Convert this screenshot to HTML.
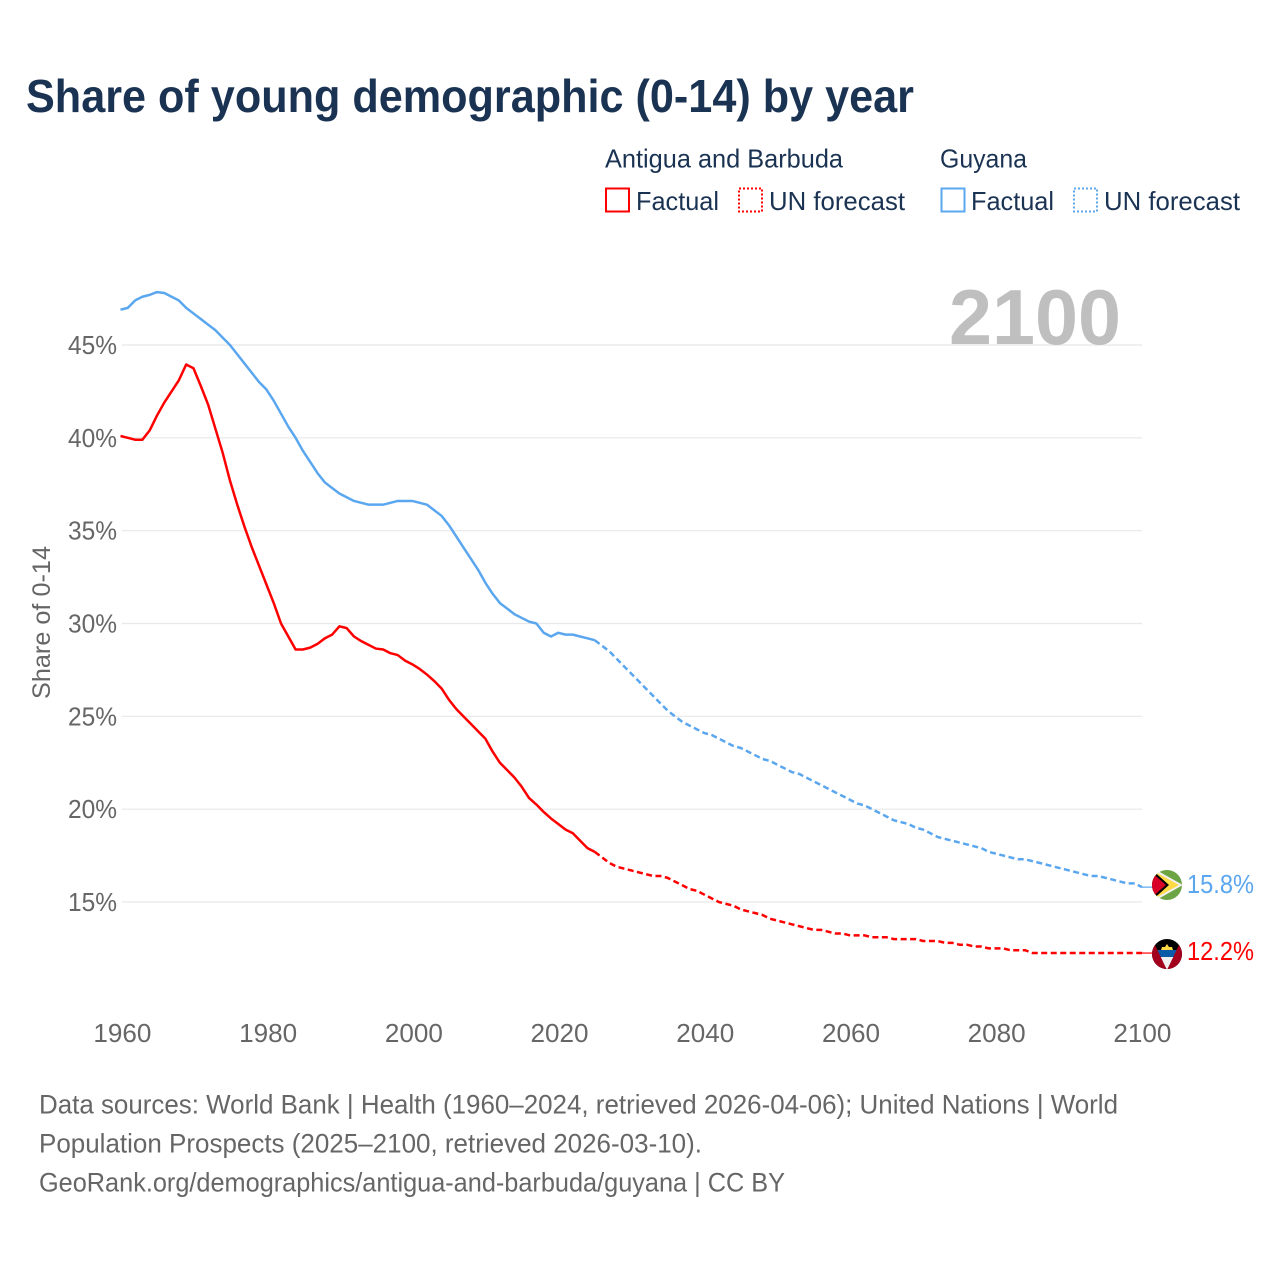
<!DOCTYPE html>
<html lang="en">
<head>
<meta charset="utf-8">
<title>Share of young demographic (0-14) by year</title>
<style>
html,body{margin:0;padding:0;background:#fff}
svg{display:block}
text{font-family:"Liberation Sans",sans-serif}
</style>
</head>
<body>
<svg id="chart" xmlns="http://www.w3.org/2000/svg" width="1280" height="1280" viewBox="0 0 1280 1280">
  <defs>
    <clipPath id="clip-guyana"><circle cx="1167" cy="885" r="15"/></clipPath>
    <clipPath id="clip-antigua"><circle cx="1167" cy="954" r="15"/></clipPath>
  </defs>
  <rect width="1280" height="1280" fill="#fff"/>
  <text x="26" y="112" font-size="46" font-weight="700" fill="#1b3353" textLength="888" lengthAdjust="spacingAndGlyphs">Share of young demographic (0-14) by year</text>

  <g font-size="26" fill="#1b3353">
    <text x="605" y="167.5" textLength="238" lengthAdjust="spacingAndGlyphs">Antigua and Barbuda</text>
    <rect x="606" y="188.5" width="23" height="23" fill="none" stroke="#ff0000" stroke-width="2"/>
    <text x="636" y="210" textLength="83" lengthAdjust="spacingAndGlyphs">Factual</text>
    <rect x="739" y="188.5" width="23" height="23" fill="none" stroke="#ff0000" stroke-width="2" stroke-dasharray="2 2"/>
    <text x="769" y="210" textLength="136" lengthAdjust="spacingAndGlyphs">UN forecast</text>
    <text x="940" y="167.5" textLength="87" lengthAdjust="spacingAndGlyphs">Guyana</text>
    <rect x="941.5" y="188.5" width="23" height="23" fill="none" stroke="#5ba7ef" stroke-width="2"/>
    <text x="971" y="210" textLength="83" lengthAdjust="spacingAndGlyphs">Factual</text>
    <rect x="1074" y="188.5" width="23" height="23" fill="none" stroke="#5ba7ef" stroke-width="2" stroke-dasharray="2 2"/>
    <text x="1104" y="210" textLength="136" lengthAdjust="spacingAndGlyphs">UN forecast</text>
  </g>

  <g id="grid"></g>
  <text x="949" y="344" font-size="78" font-weight="700" fill="#bfbfbf" textLength="172" lengthAdjust="spacingAndGlyphs">2100</text>
  <g id="yticks"></g>
  <g id="xticks"></g>
  <text transform="translate(50 622.5) rotate(-90)" text-anchor="middle" font-size="25" fill="#666" textLength="153" lengthAdjust="spacingAndGlyphs">Share of 0-14</text>
  <g id="series"></g>

  <g clip-path="url(#clip-guyana)">
    <rect x="1150" y="868" width="34" height="34" fill="#6da544"/>
    <polygon points="1150,866.5 1183,885 1150,903.5" fill="#f0f0f0"/>
    <polygon points="1150,869 1179,885 1150,901" fill="#ffda44"/>
    <polygon points="1150,868 1169,885 1150,902" fill="#000"/>
    <polygon points="1150,871 1166,885 1150,899" fill="#d80027"/>
  </g>
  <g clip-path="url(#clip-antigua)">
    <rect x="1150" y="937" width="34" height="34" fill="#000"/>
    <polygon points="1156,950 1178,950 1167,970" fill="#f0f0f0"/>
    <rect x="1156" y="950" width="22" height="7" fill="#0b5aa8"/>
    <polygon points="1161,950 1162,947 1165,947 1167,944 1169,947 1172,947 1173,950" fill="#ffda44"/>
    <polygon points="1150,940 1155,945 1167,970 1150,972" fill="#a2001d"/>
    <polygon points="1184,940 1179,945 1167,970 1184,972" fill="#a2001d"/>
  </g>

  <text id="label-guyana" x="1187" y="893" font-size="26" fill="#5ba7ef" textLength="67" lengthAdjust="spacingAndGlyphs"></text>
  <text id="label-antigua" x="1187" y="960" font-size="26" fill="#ff0000" textLength="67" lengthAdjust="spacingAndGlyphs"></text>

  <g font-size="26.5" fill="#666">
    <text x="39" y="1113.5" textLength="1079" lengthAdjust="spacingAndGlyphs">Data sources: World Bank | Health (1960–2024, retrieved 2026-04-06); United Nations | World</text>
    <text x="39" y="1152.5" textLength="663" lengthAdjust="spacingAndGlyphs">Population Prospects (2025–2100, retrieved 2026-03-10).</text>
    <text x="39" y="1191.5" textLength="746" lengthAdjust="spacingAndGlyphs">GeoRank.org/demographics/antigua-and-barbuda/guyana | CC BY</text>
  </g>
</svg>
<script>
const yTickValues = [45, 40, 35, 30, 25, 20, 15];
const xTickValues = [1960, 1980, 2000, 2020, 2040, 2060, 2080, 2100];

// 1960-2025
const guyanaFactual = [
  46.9,47.0,47.4,47.6,47.7,47.85,47.8,47.6,47.4,47.0,
  46.7,46.4,46.1,45.8,45.4,45.0,44.5,44.0,43.5,43.0,
  42.6,42.0,41.3,40.6,40.0,39.3,38.7,38.1,37.6,37.3,
  37.0,36.8,36.6,36.5,36.4,36.4,36.4,36.5,36.6,36.6,
  36.6,36.5,36.4,36.1,35.8,35.3,34.7,34.1,33.5,32.9,
  32.2,31.6,31.1,30.8,30.5,30.3,30.1,30.0,29.5,29.3,
  29.5,29.4,29.4,29.3,29.2,29.1
];
// 2025-2100
const guyanaForecast = [
  29.1,28.8,28.5,28.1,27.7,
  27.3,26.9,26.5,26.1,25.7,25.3,25.0,24.7,24.5,24.3,
  24.1,24.0,23.8,23.6,23.4,23.3,23.1,22.9,22.7,22.6,
  22.4,22.2,22.0,21.9,21.7,21.5,21.3,21.1,20.9,20.7,
  20.5,20.3,20.2,20.0,19.8,19.6,19.4,19.3,19.2,19.0,
  18.9,18.7,18.5,18.4,18.3,18.2,18.1,18.0,17.9,17.7,
  17.6,17.5,17.4,17.3,17.3,17.2,17.1,17.0,16.9,16.8,
  16.7,16.6,16.5,16.4,16.4,16.3,16.2,16.1,16.0,16.0,
  15.8
];
// 1960-2025
const antiguaFactual = [
  40.1,40.0,39.9,39.9,40.4,41.2,41.9,42.5,43.1,43.95,
  43.75,42.8,41.8,40.5,39.2,37.7,36.4,35.2,34.1,33.1,
  32.1,31.1,30.0,29.3,28.6,28.6,28.7,28.9,29.2,29.4,
  29.85,29.75,29.3,29.05,28.85,28.65,28.6,28.4,28.3,28.0,
  27.8,27.55,27.25,26.9,26.5,25.9,25.4,25.0,24.6,24.2,
  23.8,23.1,22.5,22.1,21.7,21.2,20.6,20.25,19.85,19.5,
  19.2,18.9,18.7,18.3,17.9,17.7
];
// 2025-2100
const antiguaForecast = [
  17.7,17.4,17.1,16.9,16.8,
  16.7,16.6,16.5,16.4,16.4,16.3,16.1,15.9,15.7,15.6,
  15.4,15.2,15.0,14.9,14.8,14.6,14.5,14.4,14.3,14.1,
  14.0,13.9,13.8,13.7,13.6,13.5,13.5,13.4,13.3,13.3,
  13.2,13.2,13.2,13.1,13.1,13.1,13.0,13.0,13.0,13.0,
  12.9,12.9,12.9,12.8,12.8,12.7,12.7,12.6,12.6,12.5,
  12.5,12.5,12.4,12.4,12.4,12.25,12.25,12.25,12.25,12.25,
  12.25,12.25,12.25,12.25,12.25,12.25,12.25,12.25,12.25,12.25,
  12.25
];
const guyanaEndLabel = "15.8%";
const antiguaEndLabel = "12.2%";

const SVG_NS = "http://www.w3.org/2000/svg";
const xScale = function (year) { return 122 + (year - 1960) * (1020 / 140); };
const xScaleLine = function (year) { return 120.5 + (year - 1960) * (1021.5 / 140); };
const yScale = function (v) { return 345 + (45 - v) * (557 / 30); };

function buildPath(values, startYear) {
  let d = "";
  values.forEach(function (v, i) {
    d += (i === 0 ? "M" : "L") + xScaleLine(startYear + i).toFixed(2) + " " + yScale(v).toFixed(2);
  });
  return d;
}

const gridGroup = document.getElementById("grid");
const yTickGroup = document.getElementById("yticks");
yTickValues.forEach(function (v) {
  const line = document.createElementNS(SVG_NS, "line");
  
  
  line.setAttribute("x1", xScale(1960));
  line.setAttribute("x2", xScale(2100));
  line.setAttribute("y1", yScale(v));
  line.setAttribute("y2", yScale(v));
  line.setAttribute("stroke", "#e8e8e8");
  line.setAttribute("stroke-width", "1.2");
  gridGroup.appendChild(line);

  const t = document.createElementNS(SVG_NS, "text");
  
  
  t.setAttribute("x", 68);
  t.setAttribute("y", yScale(v) + 9);
  t.setAttribute("font-size", "25.5");
  t.setAttribute("fill", "#666");
  t.setAttribute("textLength", "49");
  t.setAttribute("lengthAdjust", "spacingAndGlyphs");
  t.textContent = v + "%";
  yTickGroup.appendChild(t);
});

const xTickGroup = document.getElementById("xticks");
xTickValues.forEach(function (year) {
  const t = document.createElementNS(SVG_NS, "text");
  
  
  t.setAttribute("x", xScale(year) - 28.6);
  t.setAttribute("y", 1042);
  t.setAttribute("font-size", "25.5");
  t.setAttribute("fill", "#666");
  t.setAttribute("textLength", "58");
  t.setAttribute("lengthAdjust", "spacingAndGlyphs");
  t.textContent = year;
  xTickGroup.appendChild(t);
});

const seriesGroup = document.getElementById("series");

function addLine(values, startYear, color, dashed, name) {
  const p = document.createElementNS(SVG_NS, "path");
  
  
  p.setAttribute("d", buildPath(values, startYear));
  p.setAttribute("fill", "none");
  p.setAttribute("stroke", color);
  p.setAttribute("stroke-width", "2.5");
  p.setAttribute("stroke-linejoin", "round");
  if (dashed) p.setAttribute("stroke-dasharray", "6 3.5");
  seriesGroup.appendChild(p);
}

function addConnector(lastValue, color, name) {
  const c = document.createElementNS(SVG_NS, "line");
  
  
  c.setAttribute("x1", xScale(2100));
  c.setAttribute("x2", 1152);
  c.setAttribute("y1", yScale(lastValue));
  c.setAttribute("y2", yScale(lastValue));
  c.setAttribute("stroke", color);
  c.setAttribute("stroke-width", "1.2");
  seriesGroup.appendChild(c);
}

addLine(antiguaFactual, 1960, "#ff0000", false, "line-antigua-factual");
addLine(antiguaForecast, 2025, "#ff0000", true, "line-antigua-forecast");
addLine(guyanaFactual, 1960, "#5ba7ef", false, "line-guyana-factual");
addLine(guyanaForecast, 2025, "#5ba7ef", true, "line-guyana-forecast");
addConnector(antiguaForecast[antiguaForecast.length - 1], "#ff0000", "connector-antigua");
addConnector(guyanaForecast[guyanaForecast.length - 1], "#5ba7ef", "connector-guyana");

document.getElementById("label-guyana").textContent = guyanaEndLabel;
document.getElementById("label-antigua").textContent = antiguaEndLabel;
</script>
</body>
</html>
